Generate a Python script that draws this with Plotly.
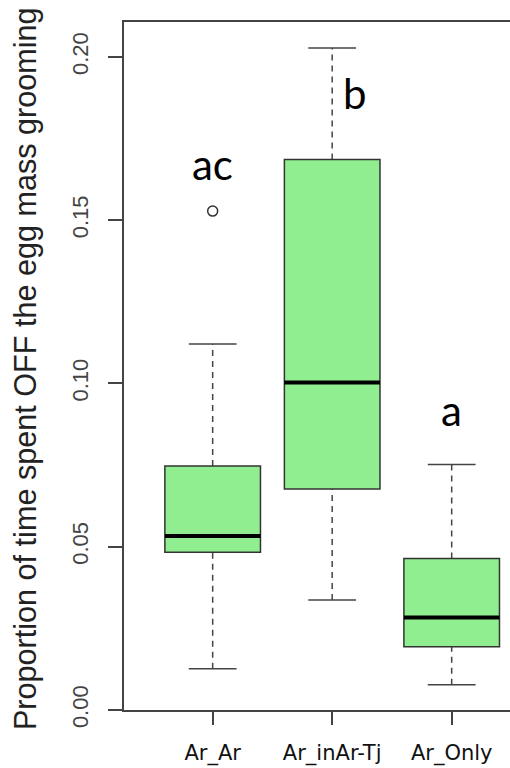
import plotly.graph_objects as go

# Group labels and five-number summaries (proportion of time off the egg mass)
groups = ["Ar_Ar", "Ar_inAr-Tj", "Ar_Only"]
lower_whisker = [0.0126, 0.0337, 0.0077]
q1 = [0.0483, 0.0677, 0.0194]
median = [0.0533, 0.1003, 0.0283]
q3 = [0.0747, 0.1686, 0.0464]
upper_whisker = [0.1121, 0.2027, 0.0752]

# Outlying observations (group index, value)
outlier_group = [1]
outlier_value = [0.1528]

# Significance letters above each group
letters = ["ac", "b", "a"]
letter_x = [1.0, 2.19, 3.0]
letter_y = [0.1672, 0.1890, 0.0918]

y_ticks = [0.00, 0.05, 0.10, 0.15, 0.20]
y_tick_text = ["0.00", "0.05", "0.10", "0.15", "0.20"]

BOX_HALF = 0.4
CAP_HALF = 0.2
FILL = "#90EE90"
EDGE = "#333333"

fig = go.Figure()
shapes = []
for i, g in enumerate(groups):
    xc = i + 1
    # whiskers (dashed)
    shapes.append(dict(type="line", xref="x", yref="y", x0=xc, x1=xc,
                       y0=q3[i], y1=upper_whisker[i],
                       line=dict(color="#444444", width=1.5, dash="6px,5px")))
    shapes.append(dict(type="line", xref="x", yref="y", x0=xc, x1=xc,
                       y0=lower_whisker[i], y1=q1[i],
                       line=dict(color="#444444", width=1.5, dash="6px,5px")))
    # whisker caps
    for v in (upper_whisker[i], lower_whisker[i]):
        shapes.append(dict(type="line", xref="x", yref="y",
                           x0=xc - CAP_HALF, x1=xc + CAP_HALF, y0=v, y1=v,
                           line=dict(color="#444444", width=1.5)))
    # box
    shapes.append(dict(type="rect", xref="x", yref="y",
                       x0=xc - BOX_HALF, x1=xc + BOX_HALF, y0=q1[i], y1=q3[i],
                       fillcolor=FILL, line=dict(color=EDGE, width=1.5)))
    # median
    shapes.append(dict(type="line", xref="x", yref="y",
                       x0=xc - BOX_HALF, x1=xc + BOX_HALF, y0=median[i], y1=median[i],
                       line=dict(color="black", width=4)))

fig.add_trace(go.Scatter(
    x=outlier_group, y=outlier_value, mode="markers",
    marker=dict(symbol="circle-open", size=10, color=EDGE, line=dict(width=1.5)),
    showlegend=False, hoverinfo="skip"))

annotations = []
for t, lx, ly in zip(letters, letter_x, letter_y):
    annotations.append(dict(x=lx, y=ly, xref="x", yref="y", text=t, showarrow=False,
                            font=dict(family="Lato", size=42, color="black")))

# y-axis title
annotations.append(dict(x=-0.2565, y=0.497, xref="paper", yref="paper",
                        xanchor="center", yanchor="middle",
                        text="Proportion of time spent OFF the egg mass grooming",
                        textangle=-90, showarrow=False,
                        font=dict(family="Liberation Sans", size=30.6, color="#222222")))

fig.update_layout(
    width=510, height=768,
    margin=dict(l=124, r=0, t=22, b=58),
    paper_bgcolor="white", plot_bgcolor="white",
    shapes=shapes, annotations=annotations, showlegend=False,
    xaxis=dict(range=[0.258, 3.488], tickvals=[1, 2, 3], ticktext=groups,
               showgrid=False, zeroline=False, showline=True, mirror=True,
               linecolor="#444444", linewidth=1.5,
               ticks="outside", ticklen=13, tickwidth=1.5, tickcolor="#444444",
               tickfont=dict(family="DejaVu Sans", size=21, color="#111111"),
               ticklabelstandoff=10),
    yaxis=dict(range=[0, 0.2107], tickvals=y_ticks, ticktext=y_tick_text,
               showgrid=False, zeroline=False, showline=True, mirror=False,
               linecolor="#444444", linewidth=1.5,
               ticks="outside", ticklen=14, tickwidth=1.5, tickcolor="#444444",
               tickangle=-90, ticklabelstandoff=11,
               tickfont=dict(family="Liberation Sans", size=22, color="#444444")),
)

fig.write_html("out.html")
